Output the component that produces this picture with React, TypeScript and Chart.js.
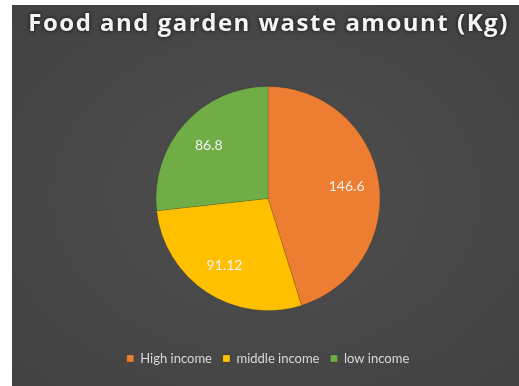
import React, { useEffect, useRef } from "react";
import { Chart, registerables } from "chart.js";

Chart.register(...registerables);

const categories = ["High income", "middle income", "low income"];
const values = [146.6, 91.12, 86.8];
const valueLabels = ["146.6", "91.12", "86.8"];
const colors = ["#ED7D31", "#FFC000", "#70AD47"];
const titleText = "Food and garden waste amount (Kg)";

const titlePlugin = {
  id: "customTitle",
  afterDraw(chart: any) {
    const ctx = chart.ctx;
    ctx.save();
    ctx.font = "bold 24px 'Open Sans'";
    (ctx as any).letterSpacing = "1.5px";
    ctx.textAlign = "center";
    ctx.textBaseline = "middle";
    ctx.shadowColor = "rgba(0,0,0,0.8)";
    ctx.shadowBlur = 4;
    ctx.fillStyle = "#f4f4f4";
    ctx.fillText(titleText, chart.width / 2 + 3, 19);
    ctx.restore();
  },
};

const labelPlugin = {
  id: "sliceLabels",
  afterDatasetsDraw(chart: any) {
    const ctx = chart.ctx;
    const meta = chart.getDatasetMeta(0);
    ctx.save();
    ctx.font = "14px Lato";
    ctx.fillStyle = "#f2f2f2";
    ctx.textAlign = "center";
    ctx.textBaseline = "middle";
    meta.data.forEach((arc: any, i: number) => {
      const p = arc.getProps(["x", "y", "startAngle", "endAngle", "outerRadius"], true);
      const mid = (p.startAngle + p.endAngle) / 2;
      const r = p.outerRadius * 0.71;
      ctx.fillText(valueLabels[i], p.x + Math.cos(mid) * r, p.y + Math.sin(mid) * r);
    });
    ctx.restore();
  },
};

export default function App() {
  const ref = useRef<HTMLCanvasElement>(null);
  useEffect(() => {
    if (!ref.current) return;
    const chart = new Chart(ref.current, {
      type: "pie",
      data: {
        labels: categories,
        datasets: [
          {
            data: values,
            backgroundColor: colors,
            borderWidth: 0.5,
            borderColor: "rgba(0,0,0,0.25)",
            radius: 112,
          },
        ],
      },
      options: {
        animation: false,
        responsive: false,
        maintainAspectRatio: false,
        layout: { padding: { top: 51, bottom: 11, left: 5, right: 0 } },
        plugins: {
          title: { display: false },
          tooltip: { enabled: false },
          legend: {
            display: true,
            position: "bottom",
            labels: {
              boxWidth: 7,
              boxHeight: 7,
              color: "#d9d9d9",
              font: { size: 13, family: "Lato" },
              padding: 11,
            },
          },
        },
      },
      plugins: [titlePlugin, labelPlugin],
    });
    return () => chart.destroy();
  }, []);
  return (
    <div
      style={{
        position: "fixed",
        left: 12,
        top: 5,
        width: 507,
        height: 381,
        background: "radial-gradient(ellipse at center, #4e4e4e 0%, #424242 100%)",
      }}
    >
      <canvas ref={ref} width={507} height={381} />
    </div>
  );
}
